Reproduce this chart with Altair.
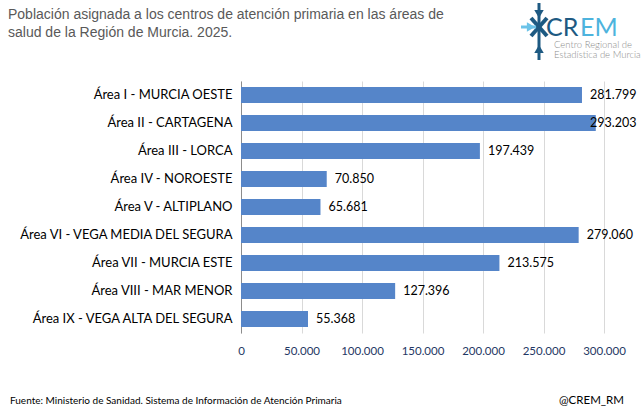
import altair as alt
import pandas as pd

# Población asignada por área de salud (2025)
areas = [
    "Área I -  MURCIA OESTE",
    "Área II -  CARTAGENA",
    "Área III - LORCA",
    "Área IV - NOROESTE",
    "Área V - ALTIPLANO",
    "Área VI - VEGA MEDIA DEL SEGURA",
    "Área VII - MURCIA ESTE",
    "Área VIII - MAR MENOR",
    "Área IX - VEGA ALTA DEL SEGURA",
]
poblacion = [281799, 293203, 197439, 70850, 65681, 279060, 213575, 127396, 55368]
x_ticks = [0, 50000, 100000, 150000, 200000, 250000, 300000]

title_lines = [
    "Población asignada a los centros de atención primaria en las áreas de",
    "salud de la Región de Murcia. 2025.",
]
fuente = "Fuente: Ministerio de Sanidad. Sistema de Información de Atención Primaria"
handle = "@CREM_RM"

df = pd.DataFrame({"area": areas, "poblacion": poblacion})

PLOT_W, PLOT_H = 363, 252
LEFT, TOP = 241, 81
LABEL_FONT = "Lato"
DARK = "#1E5A82"
LIGHT = "#6CC3E8"

x_scale = alt.Scale(domain=[0, 300000], nice=False)
y_sort = areas

base = alt.Chart(df)

bars = base.mark_bar(color="#5585C9", size=16).encode(
    x=alt.X(
        "poblacion:Q",
        scale=x_scale,
        axis=alt.Axis(
            values=x_ticks,
            labelExpr="replace(format(datum.value, ',d'), /,/g, '.')",
            labelOverlap=False,
            labelFlush=False,
            title=None,
            domain=False,
            ticks=False,
            grid=True,
            gridColor="#D9D9D9",
            labelColor="#1F3864",
            labelFont=LABEL_FONT,
            labelFontSize=11.5,
            labelPadding=12,
        ),
    ),
    y=alt.Y(
        "area:N",
        sort=y_sort,
        scale=alt.Scale(paddingInner=0.42, paddingOuter=0.21),
        axis=alt.Axis(
            title=None,
            ticks=False,
            domain=True,
            domainColor="#8C8C8C",
            grid=False,
            labelColor="#000000",
            labelFont=LABEL_FONT,
            labelFontSize=13,
            labelPadding=9,
            labelLimit=300,
        ),
    ),
)

# Value labels next to each bar, kept inside the plot width
values = base.transform_calculate(
    etiqueta="replace(format(datum.poblacion, ',d'), /,/g, '.')",
    pos="min(datum.poblacion, 281800)",
).mark_text(
    align="left", baseline="middle", dx=8, font=LABEL_FONT, fontSize=12.5, color="#000000"
).encode(
    x=alt.X("pos:Q", scale=x_scale),
    y=alt.Y("area:N", sort=y_sort),
    text="etiqueta:N",
)


def one_row():
    return pd.DataFrame({"k": [0]})


def text_layer(txt, x, y, **kw):
    d = pd.DataFrame({"t": [txt]})
    return alt.Chart(d).mark_text(**kw).encode(
        x=alt.value(x - LEFT), y=alt.value(y - TOP), text="t:N"
    )


def line_layer(x1, y1, x2, y2, color, width):
    return alt.Chart(one_row()).mark_rule(color=color, strokeWidth=width, strokeCap="butt").encode(
        x=alt.value(x1 - LEFT), y=alt.value(y1 - TOP),
        x2=alt.value(x2 - LEFT), y2=alt.value(y2 - TOP),
    )


def arrow_head(x, y, shape, color, size):
    return alt.Chart(one_row()).mark_point(
        shape=shape, filled=True, color=color, size=size, opacity=1
    ).encode(x=alt.value(x - LEFT), y=alt.value(y - TOP))


title_kw = dict(align="left", baseline="middle", font="Liberation Sans", fontSize=14, color="#595959")

logo = [
    # vertical stem with arrows pointing to the centre
    line_layer(539, 3, 539, 60, DARK, 3),
    arrow_head(539, 14, "triangle-down", DARK, 90),
    arrow_head(539, 49, "triangle-up", DARK, 90),
    # central cross
    line_layer(531, 18, 547, 36, DARK, 4),
    line_layer(531, 36, 547, 18, DARK, 4),
    # light arrow from the left
    line_layer(521, 27, 536, 27, LIGHT, 3),
    arrow_head(531, 27, "triangle-right", LIGHT, 90),
    text_layer("CR", 546, 36, align="left", baseline="alphabetic", font="Lato", fontSize=25, color=DARK),
    text_layer("EM", 580, 36, align="left", baseline="alphabetic", font="Lato", fontSize=25, color="#4DB3DD"),
    text_layer("Centro Regional de", 554, 45, align="left", baseline="middle", font="Lato", fontSize=9.5, fontWeight=300, color="#8C8C8C"),
    text_layer("Estadística de Murcia", 554, 55, align="left", baseline="middle", font="Lato", fontSize=9.5, fontWeight=300, color="#8C8C8C"),
]

layers = [
    bars,
    values,
    text_layer(title_lines[0], 8, 15, **title_kw),
    text_layer(title_lines[1], 8, 33, **title_kw),
    text_layer(fuente, 10, 401, align="left", baseline="middle", font=LABEL_FONT, fontSize=10, color="#000000"),
    text_layer(handle, 624, 401, align="right", baseline="middle", font=LABEL_FONT, fontSize=11.5, color="#000000"),
] + logo

chart = (
    alt.layer(*layers)
    .properties(
        width=PLOT_W,
        height=PLOT_H,
        autosize=alt.AutoSizeParams(type="none"),
        padding={"left": LEFT, "top": TOP, "right": 643 - LEFT - PLOT_W, "bottom": 416 - TOP - PLOT_H},
        background="white",
    )
    .configure_view(stroke=None)
)

chart.save("out.html", embed_options={"renderer": "svg", "actions": False})
